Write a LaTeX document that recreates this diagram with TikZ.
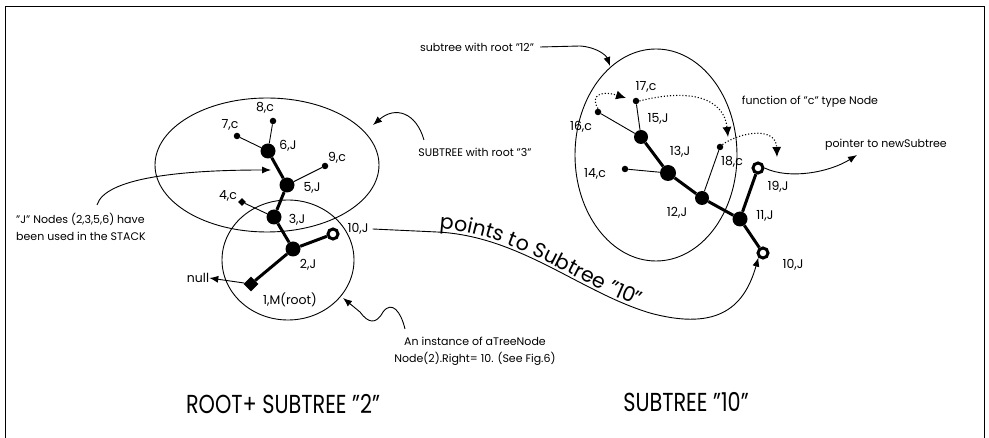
\documentclass[tikz,border=0pt]{standalone}
\usepackage{fontspec}
\setmainfont{Poppins}
\usetikzlibrary{arrows.meta,decorations.text,shapes.geometric}

\tikzset{
  bigJ/.style={circle,fill=black,inner sep=0pt,minimum size=15pt},
  dotc/.style={circle,fill=black,inner sep=0pt,minimum size=6.5pt},
  ringJ/.style={circle,draw=black,line width=3pt,fill=white,inner sep=0pt,minimum size=10pt},
  rootd/.style={diamond,fill=black,inner sep=0pt,minimum size=15pt},
  smalld/.style={diamond,fill=black,inner sep=0pt,minimum size=8pt},
  lbl/.style={font=\fontsize{12.5}{12.5}\selectfont,inner sep=0pt},
  note/.style={font=\fontsize{11}{17}\selectfont,inner sep=0pt},
  bigtext/.style={font=\fontsize{26}{26}\selectfont,inner sep=0pt},
  bubble/.style={draw,ellipse,line width=0.9pt,inner sep=0pt},
  heavy/.style={line width=3pt},
  light/.style={line width=0.9pt},
  arr/.style={line width=0.9pt,-{Latex[length=9pt,width=7pt]}},
  dotarr/.style={line width=1.1pt,dotted,-{Latex[length=10pt,width=9pt]}},
}

\begin{document}
\begin{tikzpicture}[x=1pt,y=-1pt]
\useasboundingbox (0,0) rectangle (989,438);
\draw[line width=1pt] (5,438) -- (5,7) -- (984,7) -- (984,438);

% ellipses
\node[bubble,minimum width=132pt,minimum height=120pt] (eroot) at (288,260) {};
\node[bubble,minimum width=224pt,minimum height=134pt] (e3) at (267,165) {};
\node[bubble,minimum width=162pt,minimum height=212pt] (e12) at (656,155) {};

% left tree
\node[rootd] (n1) at (251,284) {};
\node[bigJ] (n2) at (293,249) {};
\node[ringJ] (n10) at (333,234) {};
\node[bigJ] (n3) at (274,217) {};
\node[bigJ] (n5) at (287,185) {};
\node[bigJ] (n6) at (268,151) {};
\node[dotc] (n9) at (325,166) {};
\node[smalld] (n4) at (242,202) {};
\node[dotc] (n7) at (237,136) {};
\node[dotc] (n8) at (273,121) {};

\draw[heavy] (n1) -- (n2);
\draw[heavy] (n2) -- (n10);
\draw[heavy] (n2) -- (n3);
\draw[heavy] (n3) -- (n5);
\draw[heavy] (n5) -- (n6);
\draw[light] (n6) -- (n7);
\draw[light] (n6) -- (n8);
\draw[light] (n5) -- (n9);
\draw[light] (n3) -- (n4);

\node[lbl] (l1) at (290,300) {1,M(root)};
\node[lbl] (l2) at (308,265) {2,J};
\node[lbl] (l10) at (358,229) {10,J};
\node[lbl] (l3) at (297,220) {3,J};
\node[lbl] (l5) at (312,188) {5,J};
\node[lbl] (l6) at (288,146) {6,J};
\node[lbl] (l9) at (337,158) {9,c};
\node[lbl] (l4) at (228,196) {4,c};
\node[lbl] (l7) at (230,125) {7,c};
\node[lbl] (l8) at (265,108) {8,c};
\node[lbl] (lnull) at (198,278) {null};
\draw[arr] (n1) -- (lnull.east);

% right tree
\node[dotc] (r17) at (636,101) {};
\node[bigJ,minimum size=14pt] (r15) at (641,137) {};
\node[dotc] (r16) at (598,112) {};
\node[bigJ,minimum size=16pt] (r13) at (668,173) {};
\node[dotc] (r14) at (625,169) {};
\node[bigJ,minimum size=14pt] (r12) at (702,198) {};
\node[dotc] (r18) at (720,147) {};
\node[bigJ] (r11) at (740,219) {};
\node[ringJ] (r19) at (758,168) {};
\node[ringJ] (r10) at (763,253) {};

\draw[light] (r15) -- (r17);
\draw[light] (r15) -- (r16);
\draw[heavy] (r15) -- (r13);
\draw[light] (r13) -- (r14);
\draw[heavy] (r13) -- (r12);
\draw[light] (r12) -- (r18);
\draw[heavy] (r12) -- (r11);
\draw[heavy] (r11) -- (r19);
\draw[heavy] (r11) -- (r10);

\node[lbl] (k17) at (646,87) {17,c};
\node[lbl] (k15) at (658,119) {15,J};
\node[lbl] (k16) at (581,127) {16,c};
\node[lbl] (k13) at (680,152) {13,J};
\node[lbl] (k14) at (595,174) {14,c};
\node[lbl] (k12) at (677,213) {12,J};
\node[lbl] (k18) at (732,162) {18,c};
\node[lbl] (k11) at (765,216) {11,J};
\node[lbl] (k19) at (778,187) {19,J};
\node[lbl] (k10) at (793,265) {10,J};

% dotted "function of c" arrows
\coordinate (t17) at (626,98);
\coordinate (t18) at (728,137);
\coordinate (t19) at (777,157);
\draw[dotarr] (r16.north) .. controls (590,96) and (600,90) .. (t17);
\draw[dotarr] (r17.east) .. controls (690,88) and (724,98) .. (t18);
\draw[dotarr] (r18.north east) .. controls (740,132) and (776,126) .. (t19);

% annotations
\node[note] (tfun) at (810,102) {function of "c" type Node};
\node[note] (tptr) at (886,145) {pointer to newSubtree};
\coordinate (pp) at (857,155);
\draw[arr] (r19.east) .. controls (790,180) and (830,172) .. (pp);

\node[note] (t12) at (477,47) {subtree with root "12"};
\coordinate (p12) at (610,66);
\draw[arr] (t12.east) ++(6,0) coordinate (s12) -- (580,46) .. controls (596,47) and (606,55) .. (p12);

\node[note] (t3) at (475,152) {SUBTREE with root "3"};
\coordinate (p3) at (373,125);
\draw[arr] (424,140) .. controls (416,112) and (395,106) .. (p3);

\node[note,align=left,anchor=north west] (tJ) at (16,213) {"J" Nodes (2,3,5,6) have\\been used in the STACK};
\coordinate (pJ) at (271,170);
\draw[arr] (97,205) .. controls (105,178) and (180,170) .. (pJ);

\node[note,align=center] (tinst) at (475,351) {An instance of aTreeNode\\Node(2).Right= 10. (See Fig.6)};
\coordinate (pinst) at (343,298);
\draw[arr] (405,329) .. controls (401,312) and (392,300) .. (383,312) .. controls (376,325) and (368,323) .. (360,312) -- (pinst);

% points to subtree 10
\draw[arr] (l10.east) ++(4,0) -- (437,232) .. controls (520,236) and (580,292) .. (650,313) .. controls (720,332) and (745,305) .. (r10.south west);
\path[decorate,decoration={text along path,raise=3pt,text align={left indent=2pt},
  text={|\fontsize{20.5}{20.5}\selectfont|points to Subtree "10"}}]
  (437,232) .. controls (520,236) and (580,292) .. (650,313) .. controls (720,332) and (745,305) .. (758,268);

% bottom titles
\node[bigtext] (b1) at (283,404) {\scalebox{0.8}[1]{ROOT+ SUBTREE "2"}};
\node[bigtext] (b2) at (686,402) {\scalebox{0.8}[1]{SUBTREE "10"}};
\end{tikzpicture}
\end{document}
